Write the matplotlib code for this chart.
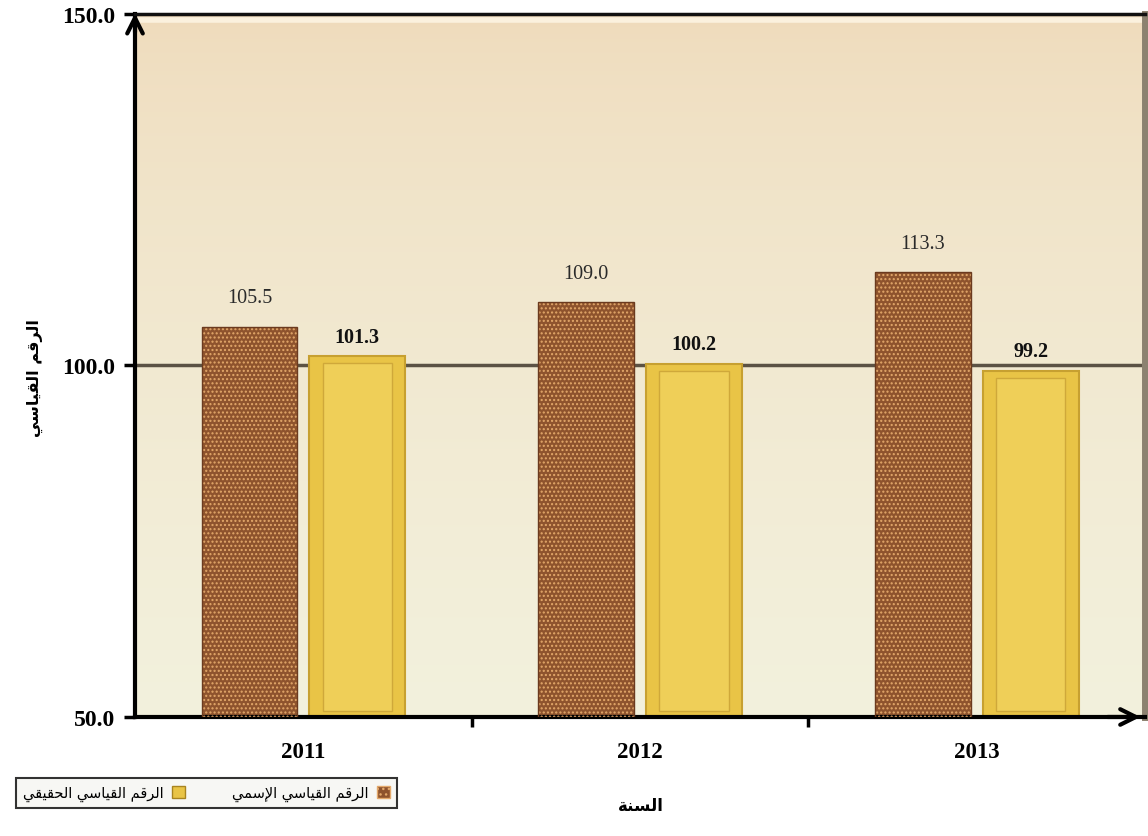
import numpy as np
import matplotlib
matplotlib.use('Agg')
import matplotlib.pyplot as plt
from matplotlib.patches import Patch

years = ['2011', '2012', '2013']
nominal = [105.5, 109.0, 113.3]
real = [101.3, 100.2, 99.2]
y_ticks = [50, 100, 150]

ylabel_ar = 'الرقم القياسي'
xlabel_ar = 'السنة'
nominal_ar = 'الرقم القياسي الإسمي'
real_ar = 'الرقم القياسي الحقيقي'

# matplotlib has no arabic shaping, so pick presentation forms by hand
FORMS = {
    'ا': ('\uFE8D', '\uFE8E', None, None),
    'إ': ('\uFE87', '\uFE88', None, None),
    'ر': ('\uFEAD', '\uFEAE', None, None),
    'ة': ('\uFE93', '\uFE94', None, None),
    'ل': ('\uFEDD', '\uFEDE', '\uFEDF', '\uFEE0'),
    'ق': ('\uFED5', '\uFED6', '\uFED7', '\uFED8'),
    'م': ('\uFEE1', '\uFEE2', '\uFEE3', '\uFEE4'),
    'ي': ('\uFEF1', '\uFEF2', '\uFEF3', '\uFEF4'),
    'س': ('\uFEB1', '\uFEB2', '\uFEB3', '\uFEB4'),
    'ح': ('\uFEA1', '\uFEA2', '\uFEA3', '\uFEA4'),
    'ن': ('\uFEE5', '\uFEE6', '\uFEE7', '\uFEE8'),
}
LAM_ALEF = {'ا': ('\uFEFB', '\uFEFC'), 'إ': ('\uFEF9', '\uFEFA')}


def dual(c):
    return c in FORMS and FORMS[c][2] is not None


def shape(text):
    out = []
    i = 0
    while i < len(text):
        c = text[i]
        prev_joins = i > 0 and dual(text[i - 1])
        if c == 'ل' and i + 1 < len(text) and text[i + 1] in LAM_ALEF:
            iso, fin = LAM_ALEF[text[i + 1]]
            out.append(fin if prev_joins else iso)
            i += 2
            continue
        if c not in FORMS:
            out.append(c)
            i += 1
            continue
        nxt = text[i + 1] if i + 1 < len(text) else None
        next_joins = dual(c) and nxt in FORMS
        iso, fin, ini, med = FORMS[c]
        if prev_joins and next_joins:
            out.append(med)
        elif prev_joins:
            out.append(fin)
        elif next_joins:
            out.append(ini)
        else:
            out.append(iso)
        i += 1
    return ''.join(out)[::-1]


serif = ['Liberation Serif', 'DejaVu Serif']
arab = ['DejaVu Sans']

fig = plt.figure(figsize=(11.48, 8.37), dpi=100)
ax = fig.add_axes([0.1176, 0.1422, 0.88, 0.8399])

x = np.arange(len(years))
w = 0.285
off = 0.16

# background gradient of the plot area (beige on top, cream lower down)
grad = np.linspace(0, 1, 256).reshape(-1, 1) ** 0.6
top_c = np.array([0xef, 0xda, 0xba]) / 255
bot_c = np.array([0xf3, 0xf1, 0xdd]) / 255
img = top_c + (bot_c - top_c) * grad
img = img.reshape(256, 1, 3)
ax.imshow(img, extent=[0, 1, 0, 1], transform=ax.transAxes, aspect='auto', zorder=0)
ax.axhline(149.2, color='#fbf1de', lw=4, zorder=0.5)

ax.axhline(100, color='#5b5244', lw=2.5, zorder=1)

# nominal bars: brown with dotted texture
ax.bar(x - off, [v - 50 for v in nominal], w, bottom=50, color='#8e532d', lw=0, zorder=2)
ax.bar(x - off, [v - 50 for v in nominal], w, bottom=50, facecolor='none',
       edgecolor='#e3a86a', hatch='....', lw=0, zorder=3)
ax.bar(x - off, [v - 50 for v in nominal], w, bottom=50, facecolor='none',
       edgecolor='#6b3a1e', lw=1.0, zorder=4)

# real bars: golden with bevel
ax.bar(x + off, [v - 50 for v in real], w, bottom=50, color='#e9c446',
       edgecolor='#c7a030', lw=1.5, zorder=2)
ax.bar(x + off, [v - 51.8 for v in real], w * 0.72, bottom=50.8, color='#efcf58',
       edgecolor='#cfa83a', lw=1.0, zorder=3)

for xi, v in zip(x, nominal):
    ax.annotate(f'{v:.1f}', (xi - off, v), xytext=(0, 14), textcoords='offset points',
                ha='center', va='bottom', fontsize=14.5, family=serif, color='#2a2a2a')
for xi, v in zip(x, real):
    ax.annotate(f'{v:.1f}', (xi + off, v), xytext=(0, 7), textcoords='offset points',
                ha='center', va='bottom', fontsize=14.5, family=serif, fontweight='bold',
                color='#111111')

ax.set_xlim(-0.5, 2.5)
ax.set_ylim(50, 150)
ax.set_yticks(y_ticks)
ax.set_yticklabels([f'{t:.1f}' for t in y_ticks], family=serif, fontsize=17, fontweight='bold')
ax.set_xticks(x)
ax.set_xticklabels(years, family=serif, fontsize=16.5, fontweight='bold')
ax.set_xticks([0.5, 1.5], minor=True)
ax.tick_params(axis='x', which='major', length=0, pad=17)
ax.tick_params(axis='x', which='minor', length=7, width=2.5, direction='out')
ax.tick_params(axis='y', length=8, width=2.5, direction='out', pad=6)

for side in ['left', 'bottom']:
    ax.spines[side].set_linewidth(3)
    ax.spines[side].set_color('black')
ax.spines['top'].set_linewidth(2.5)
ax.spines['top'].set_color('#111111')
ax.spines['right'].set_linewidth(5)
ax.spines['right'].set_color('#8c8270')

ax.annotate('', xy=(0, 1.005), xytext=(0, 0.97), xycoords='axes fraction',
            arrowprops=dict(arrowstyle='->', lw=3, color='black', mutation_scale=28),
            annotation_clip=False, zorder=6)
ax.annotate('', xy=(0.998, 0), xytext=(0.96, 0), xycoords='axes fraction',
            arrowprops=dict(arrowstyle='->', lw=3, color='black', mutation_scale=28),
            annotation_clip=False, zorder=6)

fig.text(35 / 1148, 1 - 378 / 837, shape(ylabel_ar), rotation=90, ha='center', va='center',
         fontsize=11.5, fontweight='bold', family=arab)
fig.text(641 / 1148, 1 - 806 / 837, shape(xlabel_ar), ha='center', va='center',
         fontsize=12, fontweight='bold', family=arab)

handles = [Patch(facecolor='#e9c446', edgecolor='#a88420'),
           Patch(facecolor='#8e532d', edgecolor='#e3a86a', hatch='...')]
labels = [shape(real_ar), shape(nominal_ar)]
leg = fig.legend(handles, labels, loc='center left', bbox_to_anchor=(9 / 1148, 1 - 794 / 837),
                 ncol=2, markerfirst=False, frameon=True, fancybox=False, edgecolor='black',
                 facecolor='#f5f5f2', prop={'family': arab, 'size': 10.5},
                 handlelength=0.9, handleheight=0.9, handletextpad=0.6,
                 columnspacing=3.2, borderpad=0.45)
leg.get_frame().set_linewidth(1.5)

fig.savefig('out.png', dpi=100)
